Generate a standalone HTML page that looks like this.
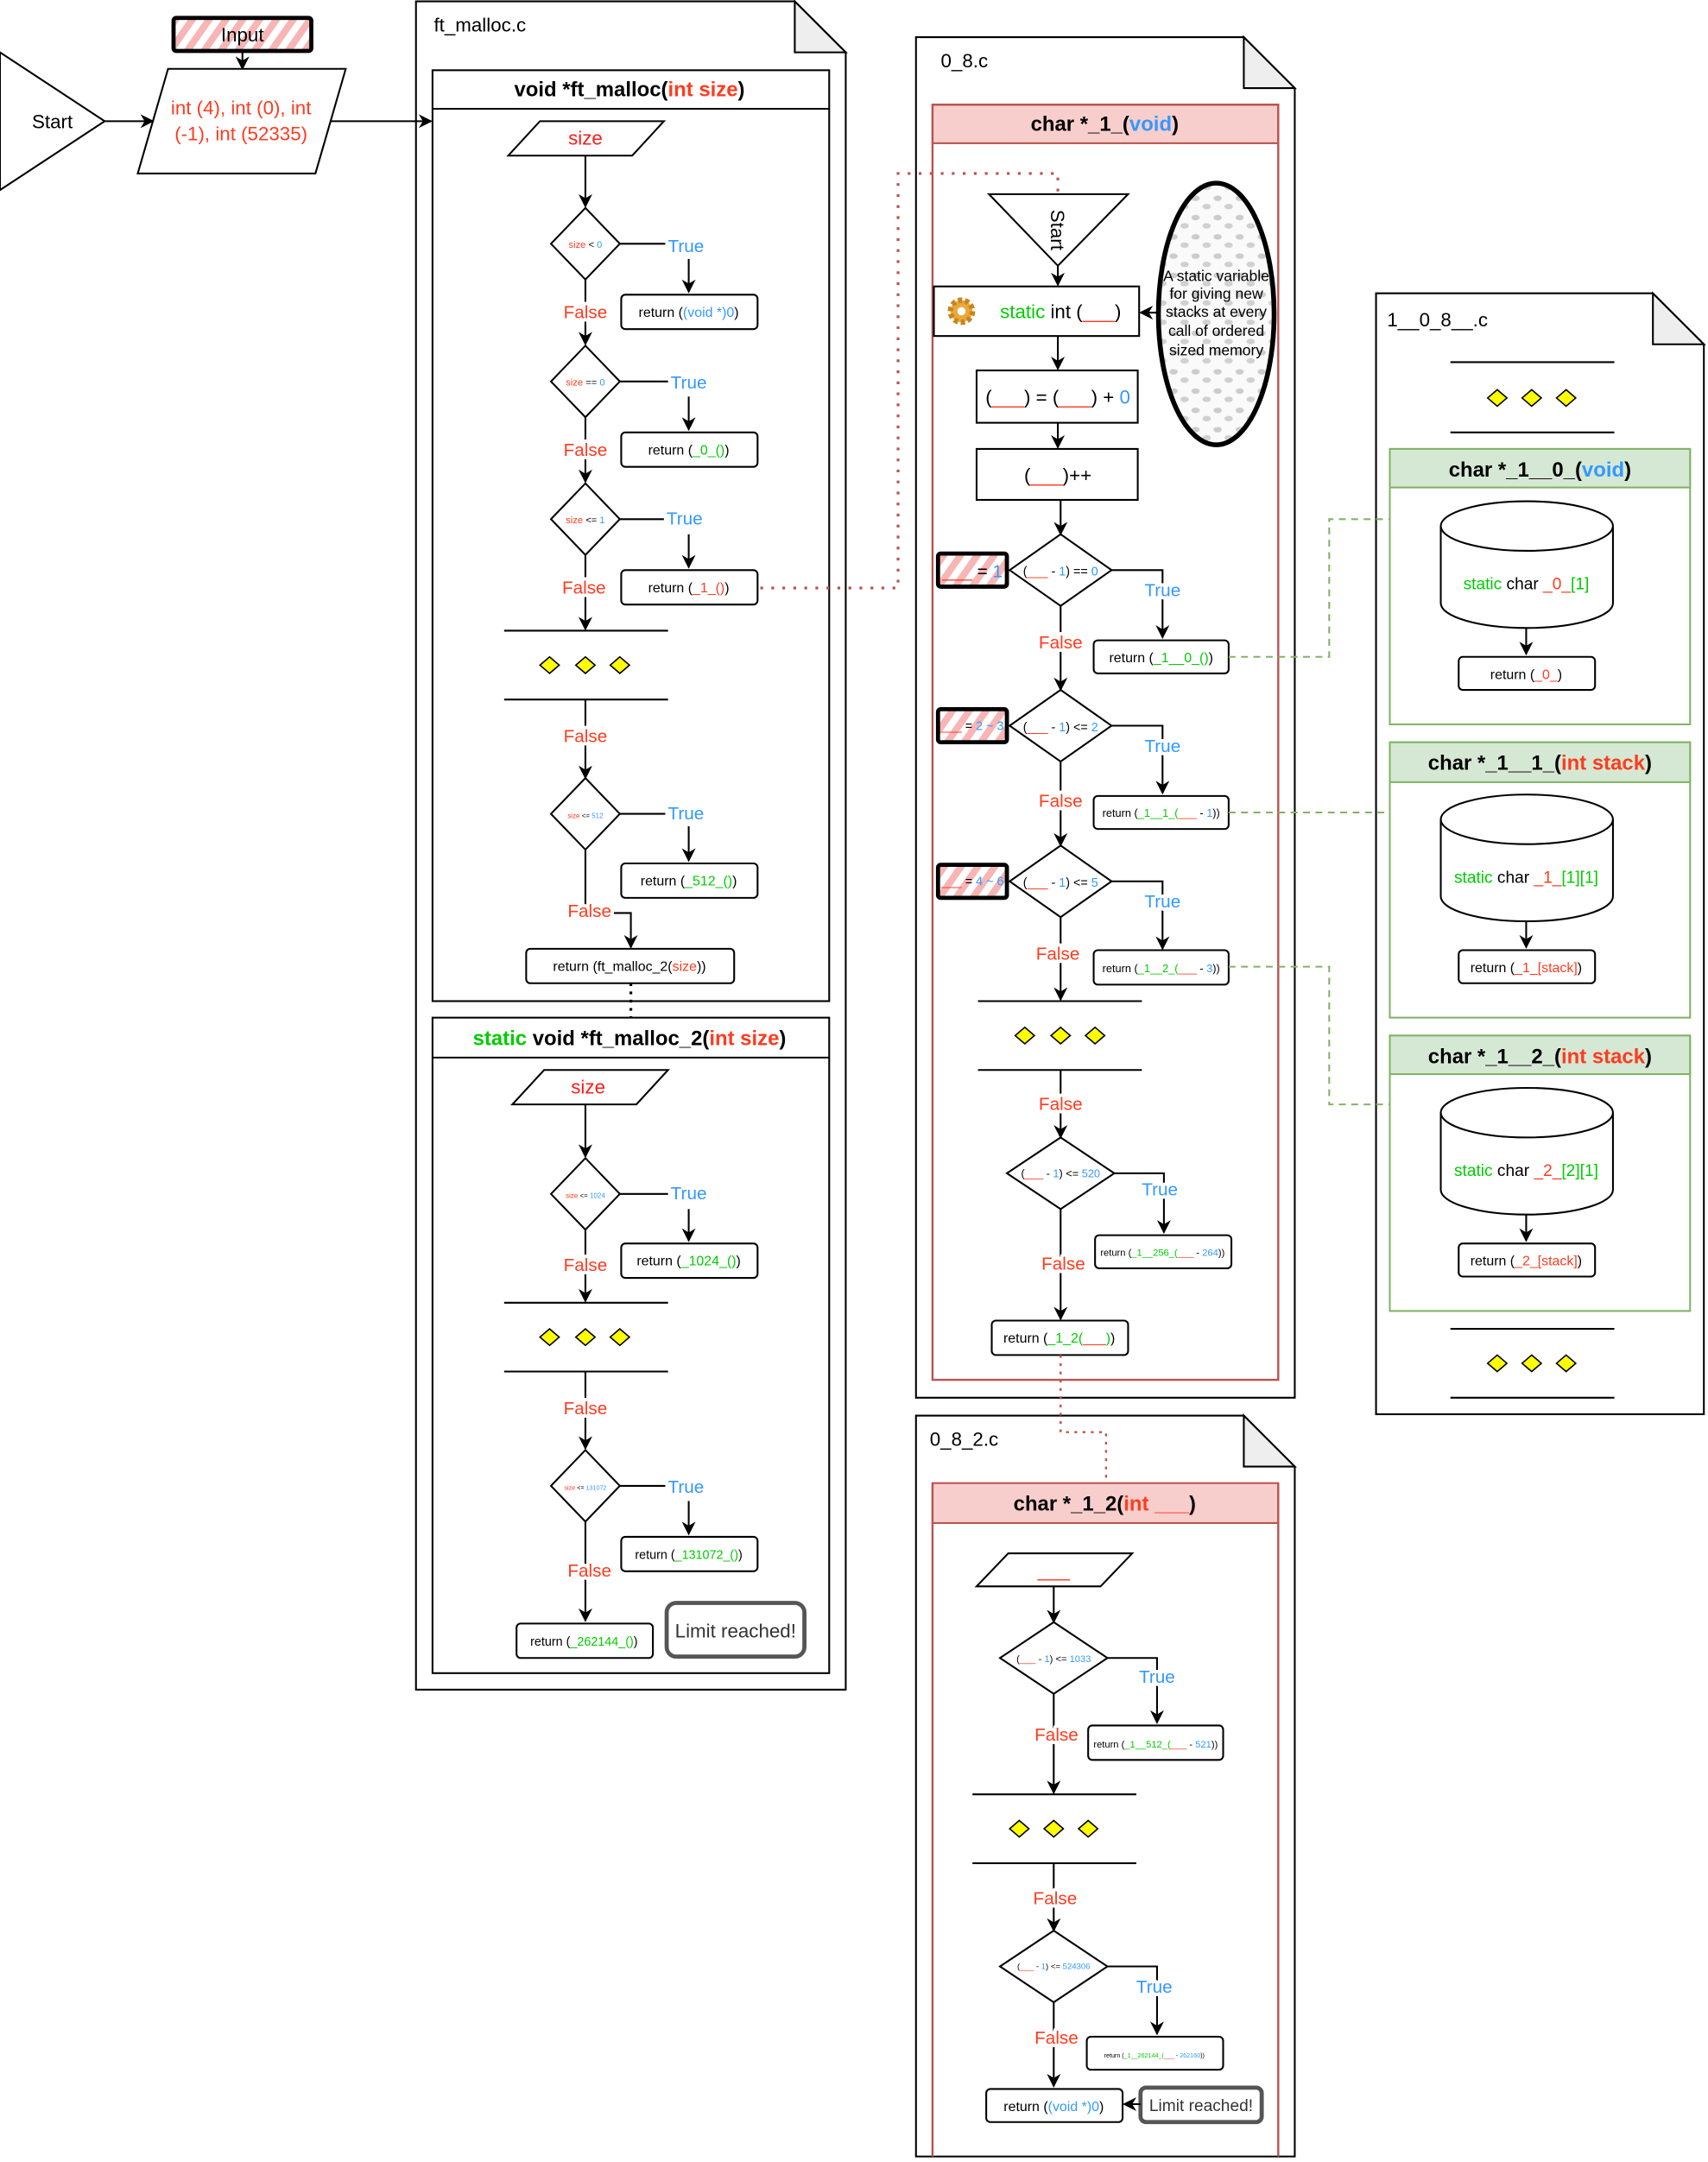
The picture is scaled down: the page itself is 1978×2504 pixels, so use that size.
<!DOCTYPE html>
<html><head><meta charset="utf-8"><style>
html,body{margin:0;padding:0;background:#fff;}
svg{display:block;}
text{font-family:"Liberation Sans",sans-serif;}
.lb text{stroke:#fff;stroke-width:5;paint-order:stroke;stroke-linejoin:round;}
</style></head><body>
<svg width="1978" height="2504" viewBox="0 0 1240 1570" preserveAspectRatio="none" xmlns="http://www.w3.org/2000/svg">
<defs>
<marker id="a" markerWidth="10" markerHeight="10" refX="9" refY="5" orient="auto" markerUnits="userSpaceOnUse"><path d="M0,0 L10,5 L0,10 L3,5 z" fill="#000"/></marker>
<pattern id="h" width="10" height="10" patternUnits="userSpaceOnUse" patternTransform="rotate(35)"><rect width="10" height="10" fill="#fff"/><rect width="5" height="10" fill="#f7b5b5"/></pattern>
<pattern id="dots" width="16" height="14" patternUnits="userSpaceOnUse"><rect width="16" height="14" fill="#fafafa"/><ellipse cx="4" cy="4" rx="3" ry="2" fill="#ccc"/><ellipse cx="12" cy="10" rx="3" ry="2" fill="#d0d0d0"/></pattern>
</defs>
<g stroke="#000" stroke-width="1.3" fill="none">
<!-- Start & Input -->
<polygon points="0,38 76,88 0,138" fill="#fff"/>
<rect x="126" y="13" width="100" height="24" fill="url(#h)" stroke-width="3" rx="2"/>
<line x1="176" y1="37" x2="176" y2="50" marker-end="url(#a)"/>
<polygon points="122,50 251,50 229,126 100,126" fill="#fff"/>
<line x1="76" y1="88" x2="111" y2="88" marker-end="url(#a)"/>
<!-- ft_malloc.c doc -->
<polygon points="302,1 577,1 614,38 614,1227 302,1227" fill="#fff"/>
<polygon points="577,1 577,38 614,38" fill="#eee"/>
<line x1="240" y1="88" x2="313" y2="88" marker-end="url(#a)"/>
<rect x="314" y="51" width="288" height="676"/>
<line x1="314" y1="79" x2="602" y2="79"/>
<polygon points="392,88 482,88 459,113 369,113"/>
<line x1="425" y1="113" x2="425" y2="150" marker-end="url(#a)"/>
<polygon points="400,177 425,151 450,177 425,203"/>
<line x1="450" y1="177" x2="483" y2="177"/><line x1="500" y1="188" x2="500" y2="212" marker-end="url(#a)"/>
<rect x="451" y="214" width="99" height="25" rx="3"/>
<line x1="425" y1="203" x2="425" y2="250" marker-end="url(#a)"/>
<polygon points="400,277 425,251 450,277 425,303"/>
<line x1="450" y1="277" x2="485" y2="277"/><line x1="500" y1="288" x2="500" y2="312" marker-end="url(#a)"/>
<rect x="451" y="314" width="99" height="25" rx="3"/>
<line x1="425" y1="303" x2="425" y2="350" marker-end="url(#a)"/>
<polygon points="400,377 425,351 450,377 425,403"/>
<line x1="450" y1="377" x2="482" y2="377"/><line x1="500" y1="388" x2="500" y2="412" marker-end="url(#a)"/>
<rect x="451" y="414" width="99" height="25" rx="3"/>
<line x1="425" y1="403" x2="425" y2="457" marker-end="url(#a)"/>
<line x1="366" y1="458" x2="485" y2="458"/><line x1="366" y1="508" x2="485" y2="508"/>
<line x1="425" y1="508" x2="425" y2="565" marker-end="url(#a)"/>
<polygon points="400,591 425,565 450,591 425,617"/>
<line x1="450" y1="591" x2="483" y2="591"/><line x1="500" y1="600" x2="500" y2="625" marker-end="url(#a)"/>
<rect x="451" y="627" width="99" height="25" rx="3"/>
<line x1="425" y1="617" x2="425" y2="662"/>
<polyline points="440,663 458,663 458,688" marker-end="url(#a)"/>
<rect x="382" y="689" width="151" height="25" rx="3"/>
<line x1="458" y1="714" x2="458" y2="739" stroke-dasharray="2,4" stroke-width="2"/>
<!-- box2 -->
<rect x="314" y="739" width="288" height="476"/>
<line x1="314" y1="768" x2="602" y2="768"/>
<polygon points="395,777 485,777 462,802 372,802"/>
<line x1="425" y1="802" x2="425" y2="840" marker-end="url(#a)"/>
<polygon points="400,867 425,841 450,867 425,893"/>
<line x1="450" y1="867" x2="485" y2="867"/><line x1="500" y1="878" x2="500" y2="901" marker-end="url(#a)"/>
<rect x="451" y="903" width="99" height="25" rx="3"/>
<line x1="425" y1="893" x2="425" y2="945" marker-end="url(#a)"/>
<line x1="366" y1="946" x2="485" y2="946"/><line x1="366" y1="996" x2="485" y2="996"/>
<line x1="425" y1="996" x2="425" y2="1052" marker-end="url(#a)"/>
<polygon points="400,1079 425,1053 450,1079 425,1105"/>
<line x1="450" y1="1079" x2="483" y2="1079"/><line x1="500" y1="1090" x2="500" y2="1114" marker-end="url(#a)"/>
<rect x="451" y="1116" width="99" height="25" rx="3"/>
<line x1="425" y1="1105" x2="425" y2="1177" marker-end="url(#a)"/>
<rect x="375" y="1179" width="99" height="25" rx="3"/>
<rect x="484" y="1164" width="100" height="39" rx="7" stroke="#555" stroke-width="3"/>
<!-- 0_8.c -->
<polygon points="665,27 903,27 940,64 940,1015 665,1015" fill="#fff"/>
<polygon points="903,27 903,64 940,64" fill="#eee"/>
<rect x="677" y="76" width="251" height="28" fill="#f8cecc" stroke="#b85450"/>
<rect x="677" y="76" width="251" height="926" stroke="#b85450" stroke-width="1.5"/>
<polyline points="552,427 652,427 652,126 768,126 768,141" stroke="#b85450" stroke-dasharray="2,6" stroke-width="2"/>
<polygon points="718,141 819,141 768,193"/>
<line x1="768" y1="193" x2="768" y2="207" marker-end="url(#a)"/>
<rect x="678" y="208" width="149" height="36"/>
<ellipse cx="883" cy="228" rx="42" ry="95" fill="url(#dots)" stroke-width="3.5"/>
<line x1="841" y1="227" x2="828" y2="227" marker-end="url(#a)"/>
<line x1="768" y1="244" x2="768" y2="268" marker-end="url(#a)"/>
<rect x="709" y="269" width="117" height="38"/>
<line x1="768" y1="307" x2="768" y2="325" marker-end="url(#a)"/>
<rect x="709" y="326" width="117" height="37"/>
<line x1="770" y1="363" x2="770" y2="388" marker-end="url(#a)"/>
<polygon points="733,414 770,388 807,414 770,440"/>
<rect x="681" y="402" width="50" height="24" fill="url(#h)" stroke-width="3" rx="2"/>
<polyline points="807,414 844,414 844,463" marker-end="url(#a)"/>
<rect x="794" y="465" width="98" height="24" rx="3"/>
<line x1="770" y1="440" x2="770" y2="501" marker-end="url(#a)"/>
<polygon points="733,527 770,501 807,527 770,553"/>
<rect x="681" y="515" width="50" height="24" fill="url(#h)" stroke-width="3" rx="2"/>
<polyline points="807,527 844,527 844,576" marker-end="url(#a)"/>
<rect x="794" y="578" width="98" height="24" rx="3"/>
<line x1="770" y1="553" x2="770" y2="614" marker-end="url(#a)"/>
<polygon points="733,640 770,614 807,640 770,666"/>
<rect x="681" y="628" width="50" height="24" fill="url(#h)" stroke-width="3" rx="2"/>
<polyline points="807,640 844,640 844,689" marker-end="url(#a)"/>
<rect x="794" y="690" width="98" height="25" rx="3"/>
<line x1="770" y1="666" x2="770" y2="726" marker-end="url(#a)"/>
<line x1="710" y1="727" x2="829" y2="727"/><line x1="710" y1="777" x2="829" y2="777"/>
<line x1="770" y1="777" x2="770" y2="826" marker-end="url(#a)"/>
<polygon points="731,852 770,826 809,852 770,878"/>
<polyline points="809,852 845,852 845,895" marker-end="url(#a)"/>
<rect x="795" y="897" width="99" height="24" rx="3"/>
<line x1="770" y1="878" x2="770" y2="958" marker-end="url(#a)"/>
<rect x="720" y="959" width="99" height="25" rx="3"/>
<!-- 0_8_2.c -->
<polygon points="665,1028 903,1028 940,1065 940,1566 665,1566" fill="#fff"/>
<polygon points="903,1028 903,1065 940,1065" fill="#eee"/>
<polyline points="770,984 770,1040 803,1040 803,1077" stroke="#b85450" stroke-dasharray="2,4" stroke-width="1.5"/>
<rect x="677" y="1077" width="251" height="29" fill="#f8cecc" stroke="#b85450"/>
<line x1="677" y1="1077" x2="677" y2="1566" stroke="#b85450" stroke-width="1.5"/>
<line x1="928" y1="1077" x2="928" y2="1566" stroke="#b85450" stroke-width="1.5"/>
<polygon points="732,1128 822,1128 799,1152 709,1152"/>
<line x1="765" y1="1152" x2="765" y2="1178" marker-end="url(#a)"/>
<polygon points="726,1204 765,1178 804,1204 765,1230"/>
<polyline points="804,1204 840,1204 840,1251" marker-end="url(#a)"/>
<rect x="790" y="1253" width="98" height="25" rx="3"/>
<line x1="765" y1="1230" x2="765" y2="1302" marker-end="url(#a)"/>
<line x1="706" y1="1303" x2="825" y2="1303"/><line x1="706" y1="1353" x2="825" y2="1353"/>
<line x1="765" y1="1353" x2="765" y2="1402" marker-end="url(#a)"/>
<polygon points="726,1428 765,1402 804,1428 765,1454"/>
<polyline points="804,1428 840,1428 840,1477" marker-end="url(#a)"/>
<rect x="789" y="1479" width="99" height="24" rx="3"/>
<line x1="765" y1="1454" x2="765" y2="1515" marker-end="url(#a)"/>
<rect x="716" y="1517" width="99" height="24" rx="3"/>
<rect x="828" y="1516" width="88" height="25" rx="4" stroke="#555" stroke-width="3"/>
<line x1="828" y1="1528" x2="816" y2="1528" marker-end="url(#a)"/>
<!-- 1__0_8__.c -->
<polygon points="999,213 1200,213 1237,250 1237,1027 999,1027" fill="#fff"/>
<polygon points="1200,213 1200,250 1237,250" fill="#eee"/>
<line x1="1053" y1="263" x2="1172" y2="263"/><line x1="1053" y1="314" x2="1172" y2="314"/>
<line x1="1053" y1="965" x2="1172" y2="965"/><line x1="1053" y1="1015" x2="1172" y2="1015"/>
<g stroke="#82b366">
<rect x="1009" y="326" width="218" height="200"/><rect x="1009" y="326" width="218" height="28" fill="#d5e8d4"/>
<rect x="1009" y="539" width="218" height="200"/><rect x="1009" y="539" width="218" height="29" fill="#d5e8d4"/>
<rect x="1009" y="752" width="218" height="200"/><rect x="1009" y="752" width="218" height="28" fill="#d5e8d4"/>
</g>
<path d="M1046,382 L1046,438 A62.5,18 0 0 0 1171,438 L1171,382 A62.5,18 0 0 0 1046,382 A62.5,18 0 0 0 1171,382"/>
<line x1="1108" y1="456" x2="1108" y2="475" marker-end="url(#a)"/>
<rect x="1059" y="477" width="99" height="24" rx="3"/>
<path d="M1046,595 L1046,651 A62.5,18 0 0 0 1171,651 L1171,595 A62.5,18 0 0 0 1046,595 A62.5,18 0 0 0 1171,595"/>
<line x1="1108" y1="669" x2="1108" y2="688" marker-end="url(#a)"/>
<rect x="1059" y="690" width="99" height="24" rx="3"/>
<path d="M1046,808 L1046,864 A62.5,18 0 0 0 1171,864 L1171,808 A62.5,18 0 0 0 1046,808 A62.5,18 0 0 0 1171,808"/>
<line x1="1108" y1="882" x2="1108" y2="901" marker-end="url(#a)"/>
<rect x="1059" y="903" width="99" height="24" rx="3"/>
<g stroke="#82b366" stroke-dasharray="5,4">
<polyline points="892,477 965,477 965,377 1009,377"/>
<line x1="892" y1="590" x2="1009" y2="590"/>
<polyline points="892,702 965,702 965,802 1009,802"/>
</g>
</g>
<!-- yellow diamonds -->
<g fill="#ffff00" stroke="#000" stroke-width="1">
<path d="M392,483 l7,-6 l7,6 l-7,6z M418,483 l7,-6 l7,6 l-7,6z M443,483 l7,-6 l7,6 l-7,6z"/>
<path d="M392,971 l7,-6 l7,6 l-7,6z M418,971 l7,-6 l7,6 l-7,6z M443,971 l7,-6 l7,6 l-7,6z"/>
<path d="M737,752 l7,-6 l7,6 l-7,6z M763,752 l7,-6 l7,6 l-7,6z M788,752 l7,-6 l7,6 l-7,6z"/>
<path d="M733,1328 l7,-6 l7,6 l-7,6z M758,1328 l7,-6 l7,6 l-7,6z M783,1328 l7,-6 l7,6 l-7,6z"/>
<path d="M1080,289 l7,-6 l7,6 l-7,6z M1105,289 l7,-6 l7,6 l-7,6z M1130,289 l7,-6 l7,6 l-7,6z"/>
<path d="M1080,990 l7,-6 l7,6 l-7,6z M1105,990 l7,-6 l7,6 l-7,6z M1130,990 l7,-6 l7,6 l-7,6z"/>
</g>
<!-- gear -->
<circle cx="698" cy="226" r="8" fill="#e8a93a" stroke="#c9851c" stroke-width="4" stroke-dasharray="3,2"/>
<circle cx="698" cy="226" r="3" fill="#fff"/>
<!-- texts -->
<g text-anchor="middle" font-size="13" fill="#000">
<text x="38" y="93" font-size="14">Start</text>
<text x="176" y="30" font-size="14">Input</text>
<text x="175" y="83" fill="#ff3b1f" font-size="14">int (4), int (0), int</text>
<text x="175" y="102" fill="#ff3b1f" font-size="14">(-1), int (52335)</text>
<text x="315" y="23" font-size="14" text-anchor="start">ft_malloc.c</text>
<text x="457" y="70" font-size="15" font-weight="bold">void *ft_malloc(<tspan fill="#ff3b1f">int size</tspan>)</text>
<text x="425" y="105" fill="#ff1a1a" font-size="14">size</text>
<text x="425" y="180" font-size="7"><tspan fill="#ff3b1f">size</tspan> &lt; <tspan fill="#3399ff">0</tspan></text>
<text x="425" y="280" font-size="7"><tspan fill="#ff3b1f">size</tspan> == <tspan fill="#3399ff">0</tspan></text>
<text x="425" y="380" font-size="7"><tspan fill="#ff3b1f">size</tspan> &lt;= <tspan fill="#3399ff">1</tspan></text>
<text x="425" y="594" font-size="5"><tspan fill="#ff3b1f">size</tspan> &lt;= <tspan fill="#3399ff">512</tspan></text>
<g class="lb">
<g fill="#3399ff"><text x="498" y="183">True</text><text x="500" y="282">True</text><text x="497" y="381">True</text><text x="498" y="595">True</text>
<text x="500" y="871">True</text><text x="498" y="1084">True</text>
<text x="844" y="433">True</text><text x="844" y="546">True</text><text x="844" y="659">True</text><text x="842" y="868">True</text>
<text x="840" y="1222">True</text><text x="838" y="1447">True</text></g>
<g fill="#ff3b1f"><text x="425" y="231">False</text><text x="425" y="331">False</text><text x="424" y="431">False</text><text x="425" y="539">False</text><text x="428" y="666">False</text>
<text x="425" y="923">False</text><text x="425" y="1027">False</text><text x="428" y="1145">False</text>
<text x="770" y="471">False</text><text x="770" y="586">False</text><text x="768" y="697">False</text><text x="770" y="806">False</text><text x="772" y="922">False</text>
<text x="767" y="1264">False</text><text x="766" y="1383">False</text><text x="767" y="1484">False</text></g>
</g>
<g font-size="10">
<text x="500" y="230">return (<tspan fill="#3399ff">(void *)0</tspan>)</text>
<text x="500" y="330">return (<tspan fill="#00cc00">_0_()</tspan>)</text>
<text x="500" y="430">return (<tspan fill="#ff3b1f">_1_()</tspan>)</text>
<text x="500" y="643">return (<tspan fill="#00cc00">_512_()</tspan>)</text>
<text x="457" y="705">return (ft_malloc_2(<tspan fill="#ff3b1f">size</tspan>))</text>
<text x="500" y="919">return (<tspan fill="#00cc00">_1024_()</tspan>)</text>
<text x="500" y="1132" font-size="9">return (<tspan fill="#00cc00">_131072_()</tspan>)</text>
<text x="424" y="1195" font-size="9">return (<tspan fill="#00cc00">_262144_()</tspan>)</text>
<text x="843" y="481">return (<tspan fill="#00cc00">_1__0_()</tspan>)</text>
<text x="769" y="975">return (<tspan fill="#00cc00">_1_2(</tspan><tspan fill="#ff3b1f">___</tspan><tspan fill="#00cc00">)</tspan>)</text>
<text x="765" y="1533">return (<tspan fill="#3399ff">(void *)0</tspan>)</text>
<text x="1108" y="493">return (<tspan fill="#ff3b1f">_0_</tspan>)</text>
<text x="1108" y="706">return (<tspan fill="#ff3b1f">_1_[stack]</tspan>)</text>
<text x="1108" y="919">return (<tspan fill="#ff3b1f">_2_[stack]</tspan>)</text>
</g>
<text x="843" y="593" font-size="8">return (<tspan fill="#00cc00">_1__1_(</tspan><tspan fill="#ff3b1f">___</tspan> - <tspan fill="#3399ff">1</tspan>))</text>
<text x="843" y="706" font-size="8">return (<tspan fill="#00cc00">_1__2_(</tspan><tspan fill="#ff3b1f">___</tspan> - <tspan fill="#3399ff">3</tspan>))</text>
<text x="844" y="912" font-size="7">return (<tspan fill="#00cc00">_1__256_(</tspan><tspan fill="#ff3b1f">___</tspan> - <tspan fill="#3399ff">264</tspan>))</text>
<text x="839" y="1269" font-size="7">return (<tspan fill="#00cc00">_1__512_(</tspan><tspan fill="#ff3b1f">___</tspan> - <tspan fill="#3399ff">521</tspan>))</text>
<text x="838" y="1494" font-size="4.5">return (<tspan fill="#00cc00">_1__262144_(</tspan><tspan fill="#ff3b1f">___</tspan> - <tspan fill="#3399ff">262160</tspan>))</text>
<text x="457" y="759" font-size="15" font-weight="bold"><tspan fill="#00cc00">static</tspan> void *ft_malloc_2(<tspan fill="#ff3b1f">int size</tspan>)</text>
<text x="427" y="794" fill="#ff1a1a" font-size="14">size</text>
<text x="425" y="870" font-size="5"><tspan fill="#ff3b1f">size</tspan> &lt;= <tspan fill="#3399ff">1024</tspan></text>
<text x="425" y="1082" font-size="4.5"><tspan fill="#ff3b1f">size</tspan> &lt;= <tspan fill="#3399ff">131072</tspan></text>
<text x="534" y="1189" font-size="14" fill="#333">Limit reached!</text>
<text x="872" y="1533" font-size="12" fill="#333">Limit reached!</text>
<text x="683" y="49" font-size="14" text-anchor="start">0_8.c</text>
<text x="802" y="95" font-size="15" font-weight="bold">char *_1_(<tspan fill="#3399ff">void</tspan>)</text>
<text x="0" y="0" font-size="14" transform="translate(763,167) rotate(90)">Start</text>
<text x="770" y="231" font-size="14"><tspan fill="#00cc00">static</tspan> int (<tspan fill="#ff3b1f">___</tspan>)</text>
<g font-size="11"><text x="883" y="204">A static variable</text><text x="883" y="217">for giving new</text><text x="883" y="230">stacks at every</text><text x="883" y="244">call of ordered</text><text x="883" y="258">sized memory</text></g>
<text x="768" y="293" font-size="14">(<tspan fill="#ff3b1f">___</tspan>) = (<tspan fill="#ff3b1f">___</tspan>) + <tspan fill="#3399ff">0</tspan></text>
<text x="768" y="350" font-size="14">(<tspan fill="#ff3b1f">___</tspan>)++</text>
<text x="770" y="418" font-size="9">(<tspan fill="#ff3b1f">___</tspan> - <tspan fill="#3399ff">1</tspan>) == <tspan fill="#3399ff">0</tspan></text>
<text x="770" y="531" font-size="9">(<tspan fill="#ff3b1f">___</tspan> - <tspan fill="#3399ff">1</tspan>) &lt;= <tspan fill="#3399ff">2</tspan></text>
<text x="770" y="644" font-size="9">(<tspan fill="#ff3b1f">___</tspan> - <tspan fill="#3399ff">1</tspan>) &lt;= <tspan fill="#3399ff">5</tspan></text>
<text x="770" y="855" font-size="8">(<tspan fill="#ff3b1f">___</tspan> - <tspan fill="#3399ff">1</tspan>) &lt;= <tspan fill="#3399ff">520</tspan></text>
<text x="706" y="419" font-size="13"><tspan fill="#ff3b1f">___</tspan> = <tspan fill="#3399ff">1</tspan></text>
<text x="706" y="530" font-size="9"><tspan fill="#ff3b1f">___</tspan> = <tspan fill="#3399ff">2 ~ 3</tspan></text>
<text x="706" y="643" font-size="9"><tspan fill="#ff3b1f">___</tspan> = <tspan fill="#3399ff">4 ~ 6</tspan></text>
<text x="675" y="1050" font-size="14" text-anchor="start">0_8_2.c</text>
<text x="802" y="1097" font-size="15" font-weight="bold">char *_1_2(<tspan fill="#ff3b1f">int ___</tspan>)</text>
<text x="765" y="1145" fill="#ff3b1f" font-size="14">___</text>
<text x="765" y="1207" font-size="7">(<tspan fill="#ff3b1f">___</tspan> - <tspan fill="#3399ff">1</tspan>) &lt;= <tspan fill="#3399ff">1033</tspan></text>
<text x="765" y="1430" font-size="6">(<tspan fill="#ff3b1f">___</tspan> - <tspan fill="#3399ff">1</tspan>) &lt;= <tspan fill="#3399ff">524306</tspan></text>
<text x="1007" y="237" font-size="14" text-anchor="start">1__0_8__.c</text>
<text x="1118" y="346" font-size="15" font-weight="bold">char *_1__0_(<tspan fill="#3399ff">void</tspan>)</text>
<text x="1118" y="559" font-size="15" font-weight="bold">char *_1__1_(<tspan fill="#ff3b1f">int stack</tspan>)</text>
<text x="1118" y="772" font-size="15" font-weight="bold">char *_1__2_(<tspan fill="#ff3b1f">int stack</tspan>)</text>
<text x="1108" y="428" font-size="12"><tspan fill="#00cc00">static</tspan> char <tspan fill="#ff3b1f">_0_</tspan><tspan fill="#00cc00">[1]</tspan></text>
<text x="1108" y="641" font-size="12"><tspan fill="#00cc00">static</tspan> char <tspan fill="#ff3b1f">_1_</tspan><tspan fill="#00cc00">[1][1]</tspan></text>
<text x="1108" y="854" font-size="12"><tspan fill="#00cc00">static</tspan> char <tspan fill="#ff3b1f">_2_</tspan><tspan fill="#00cc00">[2][1]</tspan></text>
</g>
</svg>
</body></html>
